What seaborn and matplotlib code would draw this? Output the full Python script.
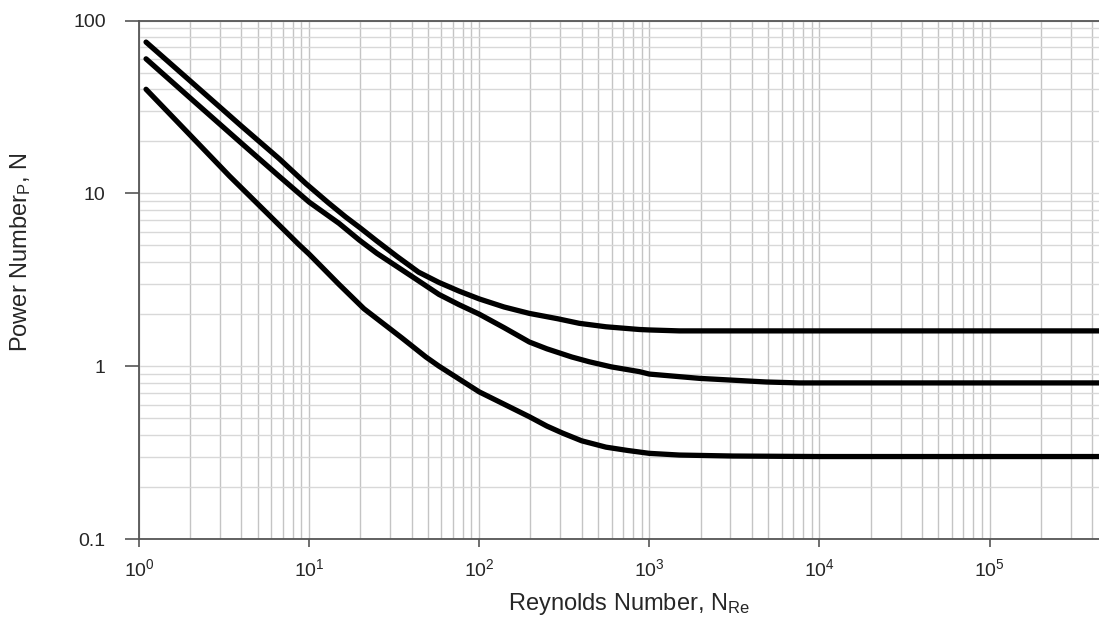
import matplotlib
matplotlib.use("Agg")
import numpy as np
import pandas as pd
import matplotlib.pyplot as plt
from matplotlib.ticker import LogLocator, NullFormatter
import seaborn as sns

# curve values (Reynolds number vs power number)
re_top = [1.1, 2, 4, 6.7, 9.56, 13, 16.4, 20, 25, 33, 44, 58, 76, 100, 140, 197,
          290, 387, 556, 873, 1000, 1500, 5000, 5e5]
np_top = [75, 44.7, 24.5, 15.8, 11.4, 8.8, 7.3, 6.3, 5.3, 4.3, 3.5, 3.05, 2.72, 2.45,
          2.2, 2.02, 1.88, 1.77, 1.69, 1.63, 1.62, 1.6, 1.6, 1.6]

re_mid = [1.1, 2, 4, 6.7, 10, 15, 19.7, 25, 40.5, 58, 76, 100, 140, 197, 250, 350,
          444, 600, 873, 1000, 1970, 4860, 7600, 5e5]
np_mid = [60, 35.6, 19.5, 12.5, 8.9, 6.7, 5.37, 4.5, 3.29, 2.6, 2.27, 2.0, 1.67, 1.38,
          1.26, 1.13, 1.06, 0.99, 0.93, 0.90, 0.85, 0.81, 0.80, 0.80]

re_low = [1.1, 2, 3.4, 5.8, 8.73, 10, 15, 21, 35, 48.6, 58, 100, 197, 250, 309, 400,
          556, 750, 1000, 1500, 3100, 10000, 5e5]
np_low = [40, 21.7, 12.6, 7.5, 5.04, 4.45, 2.97, 2.15, 1.46, 1.13, 1.0, 0.71, 0.51,
          0.45, 0.41, 0.37, 0.34, 0.325, 0.313, 0.306, 0.302, 0.30, 0.30]

x_ticks = [1, 10, 100, 1000, 10000, 100000]
x_tick_labels = [r"$\mathregular{10^{%d}}$" % i for i in range(6)]
y_ticks = [0.1, 1, 10, 100]
y_tick_labels = ["0.1", "1", "10", "100"]

df = pd.concat([
    pd.DataFrame({"Re": re_top, "Np": np_top, "curve": "top"}),
    pd.DataFrame({"Re": re_mid, "Np": np_mid, "curve": "mid"}),
    pd.DataFrame({"Re": re_low, "Np": np_low, "curve": "low"}),
])

sns.set_style("whitegrid")
plt.rcParams["font.family"] = ["Liberation Sans", "DejaVu Sans"]
plt.rcParams["mathtext.fontset"] = "custom"
plt.rcParams["mathtext.rm"] = "Liberation Sans"
plt.rcParams["mathtext.it"] = "Liberation Sans"

fig = plt.figure(figsize=(10.99, 6.23), dpi=100)
ax = fig.add_axes([139 / 1099, 1 - 539 / 623, 960 / 1099, 518.5 / 623])

sns.lineplot(data=df, x="Re", y="Np", hue="curve", palette=["black"] * 3,
             lw=3.8, legend=False, estimator=None, sort=False, ax=ax,
             solid_capstyle="round", solid_joinstyle="round")

ax.set_xscale("log")
ax.set_yscale("log")
ax.set_xlim(1, 4.4e5)
ax.set_ylim(0.1, 100)

ax.xaxis.set_minor_locator(LogLocator(base=10, subs=np.arange(2, 10), numticks=100))
ax.yaxis.set_minor_locator(LogLocator(base=10, subs=np.arange(2, 10), numticks=100))
ax.xaxis.set_minor_formatter(NullFormatter())
ax.yaxis.set_minor_formatter(NullFormatter())

ax.set_xticks(x_ticks, x_tick_labels)
ax.set_yticks(y_ticks, y_tick_labels)

ax.xaxis.grid(True, which="both", color="#c4c4c4", lw=1)
ax.yaxis.grid(True, which="both", color="#d8d8d8", lw=1)
ax.set_axisbelow(True)

ax.tick_params(axis="x", which="major", direction="out", length=6, width=1.2,
               color="#555555", labelsize=14, pad=8, bottom=True)
ax.tick_params(axis="y", which="major", direction="out", length=10, width=1.2,
               color="#555555", labelsize=14, pad=14, left=True)
ax.tick_params(which="minor", length=0)

for side in ["left", "bottom", "top"]:
    ax.spines[side].set_color("#555555")
    ax.spines[side].set_linewidth(1.3)
ax.spines["right"].set_visible(False)

ax.set_xlabel(r"Reynolds Number, N$_{\mathregular{Re}}$", fontsize=17)
ax.set_ylabel(r"Power Number$_{\mathregular{P}}$, N", fontsize=17)
ax.xaxis.set_label_coords(0.51, -0.10)
ax.yaxis.set_label_coords(-0.11, 0.553)

fig.savefig("out.png", dpi=100)
